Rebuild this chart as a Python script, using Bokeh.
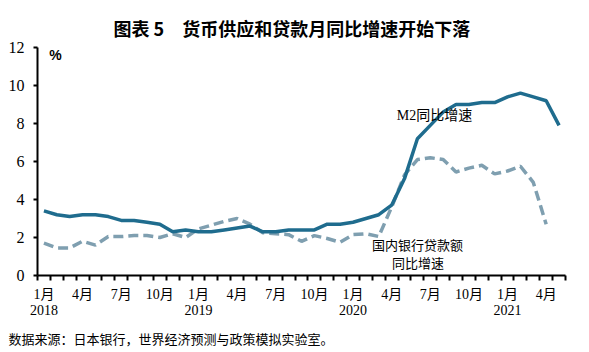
from bokeh.plotting import figure
from bokeh.models import FixedTicker, Label, Range1d, Title
from bokeh.embed import file_html
from bokeh.resources import INLINE

# ---- data ----
months = ["1月", "2月", "3月", "4月", "5月", "6月", "7月", "8月", "9月", "10月", "11月", "12月"]
years = ["2018", "2019", "2020", "2021"]
m2 = [3.4, 3.2, 3.1, 3.2, 3.2, 3.1, 2.9, 2.9, 2.8, 2.7, 2.3, 2.4,
      2.3, 2.3, 2.4, 2.5, 2.6, 2.3, 2.3, 2.4, 2.4, 2.4, 2.7, 2.7,
      2.8, 3.0, 3.2, 3.7, 5.1, 7.2, 7.9, 8.6, 9.0, 9.0, 9.1, 9.1,
      9.4, 9.6, 9.4, 9.2, 7.9]
loans = [1.7, 1.45, 1.45, 1.8, 1.6, 2.05, 2.05, 2.1, 2.1, 2.0, 2.2, 2.0,
         2.45, 2.65, 2.85, 3.0, 2.7, 2.25, 2.2, 2.15, 1.8, 2.1, 1.95, 1.75,
         2.15, 2.2, 2.05, 3.6, 5.3, 6.1, 6.2, 6.1, 5.45, 5.65, 5.8, 5.35,
         5.5, 5.75, 4.9, 2.7]
y_ticks = [0, 2, 4, 6, 8, 10, 12]

title_text = "图表 5　货币供应和贷款月同比增速开始下落"
source_text = "数据来源：日本银行，世界经济预测与政策模拟实验室。"
m2_label = "M2同比增速"
loan_label = ["国内银行贷款额", "同比增速"]

CJK = "Noto Sans CJK SC"
NUM = "Liberation Serif"

n = len(m2)
x_m2 = list(range(n))
x_loans = list(range(len(loans)))

p = figure(width=589, height=352, output_backend="svg", toolbar_location=None,
           x_range=Range1d(-0.5, n - 0.5), y_range=Range1d(0, 12),
           min_border_left=37, min_border_right=24, min_border_top=47,
           min_border_bottom=74)
p.outline_line_color = None
p.xgrid.visible = False
p.ygrid.visible = False
p.background_fill_color = "white"
p.border_fill_color = "white"

# title
p.title.text = title_text
p.title.align = "left"
p.title.offset = 76
p.title.vertical_align = "top"
p.title.text_font = CJK
p.title.text_font_size = "18px"
p.title.text_font_style = "bold"
p.title.text_color = "black"

# lines
p.line(x_loans, loans, line_color="#7f9fb0", line_width=3.5, line_dash="10 5")
p.line(x_m2, m2, line_color="#1f6c8e", line_width=3.5)

# x axis: labels every 3 months, ticks at month boundaries
lab_ticks = list(range(0, n, 3))
overrides = {}
for i in lab_ticks:
    mlab = months[i % 12]
    if i % 12 == 0:
        overrides[i] = mlab + "\n" + years[i // 12]
    else:
        overrides[i] = mlab
xa = p.xaxis[0]
xa.ticker = FixedTicker(ticks=lab_ticks, minor_ticks=[i - 0.5 for i in range(n + 1)])
xa.major_label_overrides = overrides
xa.major_tick_out = 0
xa.major_tick_in = 0
xa.minor_tick_out = 5
xa.minor_tick_in = 0
xa.minor_tick_line_width = 2
xa.minor_tick_line_color = "black"
xa.axis_line_width = 2
xa.axis_line_color = "black"
xa.major_label_standoff = 6
xa.major_label_text_font = NUM + ", " + CJK
xa.major_label_text_font_size = "14px"
xa.major_label_text_line_height = 1.1
xa.major_label_text_color = "black"

ya = p.yaxis[0]
ya.ticker = FixedTicker(ticks=y_ticks, minor_ticks=[])
ya.major_tick_out = 4
ya.major_tick_in = 0
ya.major_tick_line_width = 2
ya.major_tick_line_color = "black"
ya.axis_line_width = 2
ya.axis_line_color = "black"
ya.major_label_standoff = 9
ya.major_label_text_font = NUM
ya.major_label_text_font_size = "16px"
ya.major_label_text_color = "black"

# source line below the axis
p.add_layout(Title(text=source_text, align="left", offset=-29,
                   text_font=CJK, text_font_size="13px",
                   text_font_style="normal", text_color="black"), "below")

# text annotations inside the frame
p.add_layout(Label(x=0.9, y=11.58, text="%", text_align="center",
                   text_baseline="middle", text_font="Liberation Sans",
                   text_font_size="14px", text_font_style="bold", text_color="black"))
p.add_layout(Label(x=30.33, y=8.42, text=m2_label, text_align="center",
                   text_baseline="middle", text_font=NUM + ", " + CJK,
                   text_font_size="14px", text_color="black"))
p.add_layout(Label(x=29.0, y=1.61, text=loan_label[0], text_align="center",
                   text_baseline="middle", text_font=CJK,
                   text_font_size="13px", text_color="black"))
p.add_layout(Label(x=29.05, y=0.68, text=loan_label[1], text_align="center",
                   text_baseline="middle", text_font=CJK,
                   text_font_size="13px", text_color="black"))

open("out.html", "w").write(file_html(p, INLINE))
